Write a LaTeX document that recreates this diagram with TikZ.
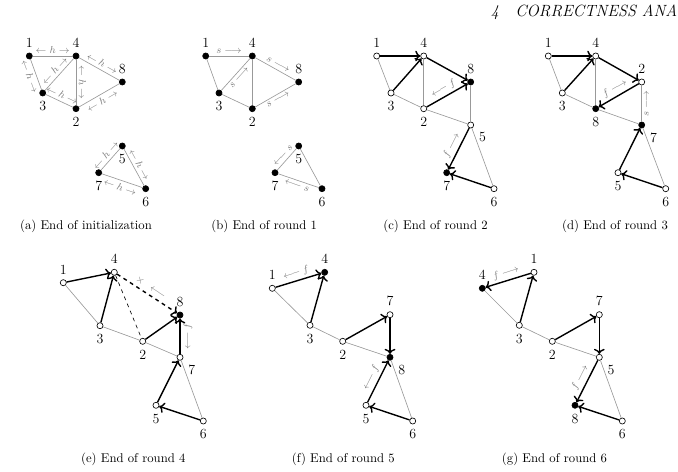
\documentclass[tikz,border=0pt]{standalone}
\usepackage{amsmath,amssymb}
\usepackage{xcolor}
\usepackage{tikz}
\usetikzlibrary{
    arrows.meta,
    positioning
}

\begin{document}
\begin{tikzpicture}[
    x=0.7874pt, y=-0.7874pt,
    node distance=3pt,
    vert/.style={
        circle,
        draw=black,
        fill=white,
        line width=0.5pt,
        inner sep=0pt,
        minimum size=4.8pt
    },
    root/.style={vert, fill=black},
    num/.style={inner sep=1pt, font=\fontsize{11}{13}\selectfont},
    link/.style={draw=black!40, line width=0.5pt},
    tree/.style={-{To}, line width=1.1pt},
    msg/.style={midway, sloped, font=\footnotesize, text=black!50, inner sep=2pt}
]

\useasboundingbox (0,0) rectangle (678,472);

% Header
\node[font=\fontsize{12.8}{15}\selectfont\itshape, anchor=east, inner sep=0pt] (head) at (677.5,12) {4\quad CORRECTNESS ANA};

% (a) End of initialization
\node[root] (a1) at (29.3,56) {};    \node[num, above=of a1] (a1n) {1};
\node[root] (a4) at (76,56) {};      \node[num, above=of a4] (a4n) {4};
\node[root] (a8) at (122.3,82) {};   \node[num, above=of a8] (a8n) {8};
\node[root] (a3) at (42.7,93) {};    \node[num, below=of a3] (a3n) {3};
\node[root] (a2) at (76,108.7) {};   \node[num, below=of a2] (a2n) {2};
\node[root] (a5) at (122.3,146) {};  \node[num, below=of a5] (a5n) {5};
\node[root] (a7) at (98.7,172.7) {}; \node[num, below=of a7] (a7n) {7};
\node[root] (a6) at (145.7,188.7) {};\node[num, below=of a6] (a6n) {6};

\draw[link] (a1) -- (a4) node[msg, above] (ma14) {$\leftarrow h \rightarrow$};
\draw[link] (a1) -- (a3) node[msg, below] (ma13) {$\leftarrow h \rightarrow$};
\draw[link] (a3) -- (a4) node[msg, above] (ma34) {$\leftarrow h \rightarrow$};
\draw[link] (a3) -- (a2) node[msg, above] (ma32) {$\leftarrow h \rightarrow$};
\draw[link] (a4) -- (a2) node[msg, above] (ma42) {$\leftarrow h \rightarrow$};
\draw[link] (a4) -- (a8) node[msg, above] (ma48) {$\leftarrow h \rightarrow$};
\draw[link] (a2) -- (a8) node[msg, below] (ma28) {$\leftarrow h \rightarrow$};
\draw[link] (a7) -- (a5) node[msg, above] (ma75) {$\leftarrow h \rightarrow$};
\draw[link] (a5) -- (a6) node[msg, above] (ma56) {$\leftarrow h \rightarrow$};
\draw[link] (a7) -- (a6) node[msg, below] (ma76) {$\leftarrow h \rightarrow$};

\node (capa) at (86,226.7) {(a) End of initialization};

% (b) End of round 1
\node[root] (b1) at (205.7,56) {};   \node[num, above=of b1] (b1n) {1};
\node[root] (b4) at (252.3,56) {};   \node[num, above=of b4] (b4n) {4};
\node[root] (b8) at (298.7,82) {};   \node[num, above=of b8] (b8n) {8};
\node[root] (b3) at (219,93) {};     \node[num, below=of b3] (b3n) {3};
\node[root] (b2) at (252.3,108.7) {};\node[num, below=of b2] (b2n) {2};
\node[root] (b5) at (298.7,146) {};  \node[num, below=of b5] (b5n) {5};
\node[root] (b7) at (275,172.7) {};  \node[num, below=of b7] (b7n) {7};
\node[root] (b6) at (322,188.7) {};  \node[num, below=of b6] (b6n) {6};

\draw[link] (b1) -- (b4) node[msg, above] (mb14) {$s \longrightarrow$};
\draw[link] (b1) -- (b3);
\draw[link] (b3) -- (b4) node[msg, below] (mb34) {$s \longrightarrow$};
\draw[link] (b3) -- (b2);
\draw[link] (b4) -- (b2);
\draw[link] (b4) -- (b8) node[msg, above] (mb48) {$s \longrightarrow$};
\draw[link] (b2) -- (b8) node[msg, below] (mb28) {$s \longrightarrow$};
\draw[link] (b7) -- (b5) node[msg, above] (mb75) {$\longleftarrow s$};
\draw[link] (b5) -- (b6);
\draw[link] (b7) -- (b6) node[msg, below] (mb76) {$\longleftarrow s$};

\node (capb) at (264.2,226.7) {(b) End of round 1};

% (c) End of round 2
\node[vert] (c1) at (376.7,56) {};   \node[num, above=of c1] (c1n) {1};
\node[vert] (c4) at (423.7,56) {};   \node[num, above=of c4] (c4n) {4};
\node[root] (c8) at (470.7,82) {};   \node[num, above=of c8] (c8n) {8};
\node[vert] (c3) at (391,93) {};     \node[num, below=of c3] (c3n) {3};
\node[vert] (c2) at (423.7,108.7) {};\node[num, below=of c2] (c2n) {2};
\node[vert] (c5) at (470.7,125) {};  \node[num, below right=3pt and 3.5pt of c5] (c5n) {5};
\node[root] (c7) at (446.7,172.7) {};\node[num, below=of c7] (c7n) {7};
\node[vert] (c6) at (494,188.7) {};  \node[num, below=of c6] (c6n) {6};

\draw[link] (c1) -- (c3);
\draw[link] (c4) -- (c2);
\draw[link] (c3) -- (c2);
\draw[link] (c2) -- (c5);
\draw[link] (c8) -- (c5);
\draw[link] (c5) -- (c6);
\draw[tree] (c1) -- (c4);
\draw[tree] (c3) -- (c4);
\draw[tree] (c4) -- (c8);
\draw[tree] (c2) -- (c8) node[msg, above] (mc28) {$\longleftarrow f$};
\draw[tree] (c5) -- (c7) node[msg, above] (mc57) {$f \longrightarrow$};
\draw[tree] (c6) -- (c7);

\node (capc) at (435.5,226.7) {(c) End of round 2};

% (d) End of round 3
\node[vert] (d1) at (548.3,56) {};   \node[num, above=of d1] (d1n) {1};
\node[vert] (d4) at (595.7,56) {};   \node[num, above=of d4] (d4n) {4};
\node[vert] (d2) at (641.7,82) {};   \node[num, above=of d2] (d2n) {2};
\node[vert] (d3) at (562.3,93) {};   \node[num, below=of d3] (d3n) {3};
\node[root] (d8) at (595.7,108.7) {};\node[num, below=of d8] (d8n) {8};
\node[root] (d7) at (641.7,125) {};  \node[num, below right=3pt and 3.5pt of d7] (d7n) {7};
\node[vert] (d5) at (618,172.7) {};  \node[num, below=of d5] (d5n) {5};
\node[vert] (d6) at (665.7,188.7) {};\node[num, below=of d6] (d6n) {6};

\draw[link] (d1) -- (d3);
\draw[link] (d4) -- (d8);
\draw[link] (d3) -- (d8);
\draw[link] (d8) -- (d7);
\draw[link] (d7) -- (d2) node[msg, below] (md72) {$s \longrightarrow$};
\draw[link] (d7) -- (d6);
\draw[tree] (d1) -- (d4);
\draw[tree] (d3) -- (d4);
\draw[tree] (d4) -- (d2);
\draw[tree] (d2) -- (d8) node[msg, above] (md28) {$f \longrightarrow$};
\draw[tree] (d5) -- (d7);
\draw[tree] (d6) -- (d5);

\node (capd) at (615,226.7) {(d) End of round 3};

% (e) End of round 4
\node[vert] (e1) at (63.3,282.7) {};  \node[num, above=of e1] (e1n) {1};
\node[vert] (e4) at (114.3,272.3) {}; \node[num, above=of e4] (e4n) {4};
\node[root] (e8) at (180,315) {};     \node[num, above=of e8] (e8n) {8};
\node[vert] (e3) at (100,325.7) {};   \node[num, below=of e3] (e3n) {3};
\node[vert] (e2) at (142.7,341.3) {}; \node[num, below=of e2] (e2n) {2};
\node[vert] (e7) at (180,357.3) {};   \node[num, below right=3pt and 3.5pt of e7] (e7n) {7};
\node[vert] (e5) at (156,405.3) {};   \node[num, below=of e5] (e5n) {5};
\node[vert] (e6) at (203.3,421) {};   \node[num, below=of e6] (e6n) {6};

\draw[link] (e1) -- (e3);
\draw[link] (e3) -- (e2);
\draw[link] (e2) -- (e7);
\draw[link] (e7) -- (e6);
\draw[dashed, line width=0.5pt] (e4) -- (e2);
\draw[tree] (e1) -- (e4);
\draw[tree] (e3) -- (e4);
\draw[tree, dashed] (e4) -- (e8) node[msg, above] (me48) {$\times\enspace\longleftarrow$};
\draw[tree] (e2) -- (e8);
\draw[tree] (e7) -- (e8) node[msg, below] (me78) {$\longleftarrow f$};
\draw[tree] (e5) -- (e7);
\draw[tree] (e6) -- (e5);

\node (cape) at (133.3,459.3) {(e) End of round 4};

% (f) End of round 5
\node[vert] (f1) at (272.3,288.3) {}; \node[num, above=of f1] (f1n) {1};
\node[root] (f4) at (324.7,272.3) {}; \node[num, above=of f4] (f4n) {4};
\node[vert] (f3) at (310,325.3) {};   \node[num, below=of f3] (f3n) {3};
\node[vert] (f2) at (342.7,341.3) {}; \node[num, below=of f2] (f2n) {2};
\node[vert] (f7) at (390,314.7) {};   \node[num, above=of f7] (f7n) {7};
\node[root] (f8) at (390,357.3) {};   \node[num, below right=3pt and 3.5pt of f8] (f8n) {8};
\node[vert] (f5) at (366,405.3) {};   \node[num, below=of f5] (f5n) {5};
\node[vert] (f6) at (412.7,421) {};   \node[num, below=of f6] (f6n) {6};

\draw[link] (f1) -- (f3);
\draw[link] (f3) -- (f2);
\draw[link] (f2) -- (f8);
\draw[link] (f8) -- (f6);
\draw[tree] (f1) -- (f4) node[msg, above] (mf14) {$\longleftarrow f$};
\draw[tree] (f3) -- (f4);
\draw[tree] (f2) -- (f7);
\draw[tree] (f7) -- (f8);
\draw[tree] (f5) -- (f8) node[msg, above] (mf58) {$\longleftarrow f$};
\draw[tree] (f6) -- (f5);

\node (capf) at (343.3,459.3) {(f) End of round 5};

% (g) End of round 6
\node[root] (g4) at (482.3,288.3) {}; \node[num, above=of g4] (g4n) {4};
\node[vert] (g1) at (534,272.3) {};   \node[num, above=of g1] (g1n) {1};
\node[vert] (g3) at (519.3,325.3) {}; \node[num, below=of g3] (g3n) {3};
\node[vert] (g2) at (552.3,341.3) {}; \node[num, below=of g2] (g2n) {2};
\node[vert] (g7) at (599.3,314.7) {}; \node[num, above=of g7] (g7n) {7};
\node[vert] (g5) at (599.3,357.3) {}; \node[num, below right=3pt and 3.5pt of g5] (g5n) {5};
\node[root] (g8) at (575,405.3) {};   \node[num, below=of g8] (g8n) {8};
\node[vert] (g6) at (622.3,421) {};   \node[num, below=of g6] (g6n) {6};

\draw[link] (g4) -- (g3);
\draw[link] (g3) -- (g2);
\draw[link] (g2) -- (g5);
\draw[link] (g5) -- (g6);
\draw[tree] (g1) -- (g4) node[msg, above] (mg14) {$f \longrightarrow$};
\draw[tree] (g3) -- (g1);
\draw[tree] (g2) -- (g7);
\draw[tree] (g7) -- (g5);
\draw[tree] (g5) -- (g8) node[msg, above] (mg58) {$f \longrightarrow$};
\draw[tree] (g6) -- (g8);

\node (capg) at (554.5,459.3) {(g) End of round 6};

\end{tikzpicture}
\end{document}
